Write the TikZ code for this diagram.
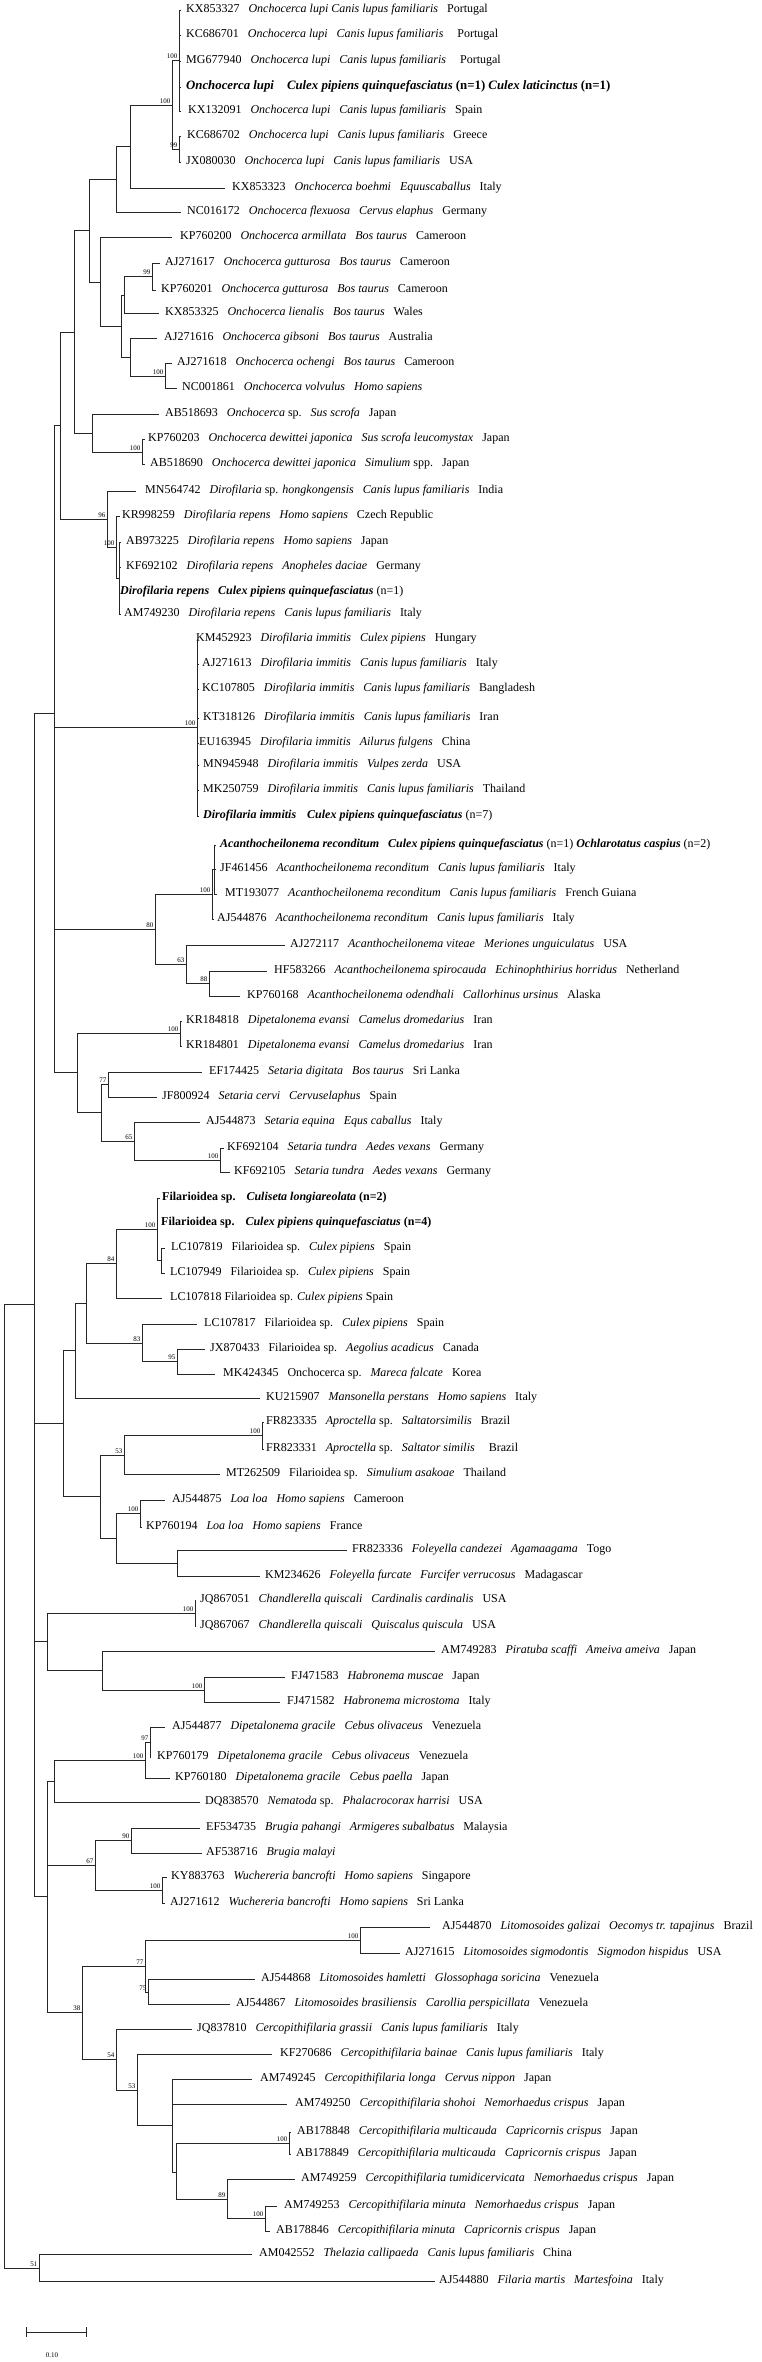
\documentclass[tikz,border=0pt]{standalone}
\usepackage{fontspec}
\setmainfont{Liberation Serif}
\newcommand\gp{\hspace{9pt}}
\newcommand\bi[1]{\textbf{\textit{#1}}}
\tikzset{
 br/.style={draw=black!85, line width=0.8pt},
 lab/.style={anchor=west, inner sep=0pt, font=\fontsize{12}{14}\selectfont, text height=8pt, text depth=2.5pt},
 boot/.style={anchor=south east, inner sep=0pt, font=\fontsize{7}{8}\selectfont, xshift=-1.5pt, yshift=1.2pt}
}
\newcommand\leaf[5]{\coordinate (t#1) at (#2,#4); \node[lab] (l#1) at (#3,#4) {#5};}
\begin{document}
\begin{tikzpicture}[x=1pt,y=-1pt]
\useasboundingbox (0,0) rectangle (762,2362);
% ---------- leaves ----------
\leaf{1}{181}{186}{10}{KX853327\gp\textit{Onchocerca lupi Canis lupus familiaris}\gp Portugal}
\leaf{2}{181}{186}{35}{KC686701\gp\textit{Onchocerca lupi}\gp\textit{Canis lupus familiaris}\gp\hspace{5pt}Portugal}
\leaf{3}{181}{186}{61}{MG677940\gp\textit{Onchocerca lupi}\gp\textit{Canis lupus familiaris}\gp\hspace{5pt}Portugal}
\leaf{4}{181}{186}{87}{\fontsize{12.8}{14}\selectfont\bi{Onchocerca lupi}\hspace{13pt}\bi{Culex pipiens quinquefasciatus} \textbf{(n=1)} \bi{Culex laticinctus} \textbf{(n=1)}}
\leaf{5}{181}{188}{111}{KX132091\gp\textit{Onchocerca lupi}\gp\textit{Canis lupus familiaris}\gp Spain}
\leaf{6}{181}{187}{136}{KC686702\gp\textit{Onchocerca lupi}\gp\textit{Canis lupus familiaris}\gp Greece}
\leaf{7}{181}{186}{162}{JX080030\gp\textit{Onchocerca lupi}\gp\textit{Canis lupus familiaris}\gp USA}
\leaf{8}{225}{232}{188}{KX853323\gp\textit{Onchocerca boehmi}\gp\textit{Equuscaballus}\gp Italy}
\leaf{9}{181}{187}{212}{NC016172\gp\textit{Onchocerca flexuosa}\gp\textit{Cervus elaphus}\gp Germany}
\leaf{10}{172}{180}{237}{KP760200\gp\textit{Onchocerca armillata}\gp\textit{Bos taurus}\gp Cameroon}
\leaf{11}{160}{165}{263}{AJ271617\gp\textit{Onchocerca gutturosa}\gp\textit{Bos taurus}\gp Cameroon}
\leaf{12}{156}{161}{290}{KP760201\gp\textit{Onchocerca gutturosa}\gp\textit{Bos taurus}\gp Cameroon}
\leaf{13}{159}{165}{313}{KX853325\gp\textit{Onchocerca lienalis}\gp\textit{Bos taurus}\gp Wales}
\leaf{14}{157}{164}{338}{AJ271616\gp\textit{Onchocerca gibsoni}\gp\textit{Bos taurus}\gp Australia}
\leaf{15}{172}{177}{363}{AJ271618\gp\textit{Onchocerca ochengi}\gp\textit{Bos taurus}\gp Cameroon}
\leaf{16}{177}{182}{388}{NC001861\gp\textit{Onchocerca volvulus}\gp\textit{Homo sapiens}}
\leaf{17}{159}{165}{414}{AB518693\gp\textit{Onchocerca} sp.\gp\textit{Sus scrofa}\gp Japan}
\leaf{18}{145}{148}{439}{KP760203\gp\textit{Onchocerca dewittei japonica}\gp\textit{Sus scrofa leucomystax}\gp Japan}
\leaf{19}{145}{150}{464}{AB518690\gp\textit{Onchocerca dewittei japonica}\gp\textit{Simulium} spp.\gp Japan}
\leaf{20}{136}{145}{491}{MN564742\gp\textit{Dirofilaria} sp. \textit{hongkongensis}\gp\textit{Canis lupus familiaris}\gp India}
\leaf{21}{120}{122}{516}{KR998259\gp\textit{Dirofilaria repens}\gp\textit{Homo sapiens}\gp Czech Republic}
\leaf{22}{121}{126}{542}{AB973225\gp\textit{Dirofilaria repens}\gp\textit{Homo sapiens}\gp Japan}
\leaf{23}{121}{126}{567}{KF692102\gp\textit{Dirofilaria repens}\gp\textit{Anopheles daciae}\gp Germany}
\leaf{24}{120}{120}{592}{\bi{Dirofilaria repens}\gp\bi{Culex pipiens quinquefasciatus} (n=1)}
\leaf{25}{121}{124}{614}{AM749230\gp\textit{Dirofilaria repens}\gp\textit{Canis lupus familiaris}\gp Italy}
\leaf{26}{197}{196}{639}{KM452923\gp\textit{Dirofilaria immitis}\gp\textit{Culex pipiens}\gp Hungary}
\leaf{27}{199}{202}{664}{AJ271613\gp\textit{Dirofilaria immitis}\gp\textit{Canis lupus familiaris}\gp Italy}
\leaf{28}{199}{202}{689}{KC107805\gp\textit{Dirofilaria immitis}\gp\textit{Canis lupus familiaris}\gp Bangladesh}
\leaf{29}{199}{203}{718}{KT318126\gp\textit{Dirofilaria immitis}\gp\textit{Canis lupus familiaris}\gp Iran}
\leaf{30}{199}{199}{743}{EU163945\gp\textit{Dirofilaria immitis}\gp\textit{Ailurus fulgens}\gp China}
\leaf{31}{199}{203}{765}{MN945948\gp\textit{Dirofilaria immitis}\gp\textit{Vulpes zerda}\gp USA}
\leaf{32}{199}{203}{790}{MK250759\gp\textit{Dirofilaria immitis}\gp\textit{Canis lupus familiaris}\gp Thailand}
\leaf{33}{199}{203}{816}{\bi{Dirofilaria immitis}\hspace{11pt}\bi{Culex pipiens quinquefasciatus} (n=7)}
\leaf{34}{216}{220}{845}{\bi{Acanthocheilonema reconditum}\gp\bi{Culex pipiens quinquefasciatus} (n=1) \bi{Ochlarotatus caspius} (n=2)}
\leaf{35}{216}{220}{869}{JF461456\gp\textit{Acanthocheilonema reconditum}\gp\textit{Canis lupus familiaris}\gp Italy}
\leaf{36}{217}{225}{894}{MT193077\gp\textit{Acanthocheilonema reconditum}\gp\textit{Canis lupus familiaris}\gp French Guiana}
\leaf{37}{214}{217}{919}{AJ544876\gp\textit{Acanthocheilonema reconditum}\gp\textit{Canis lupus familiaris}\gp Italy}
\leaf{38}{285}{290}{945}{AJ272117\gp\textit{Acanthocheilonema viteae}\gp\textit{Meriones unguiculatus}\gp USA}
\leaf{39}{267}{274}{971}{HF583266\gp\textit{Acanthocheilonema spirocauda}\gp\textit{Echinophthirius horridus}\gp Netherland}
\leaf{40}{240}{247}{996}{KP760168\gp\textit{Acanthocheilonema odendhali}\gp\textit{Callorhinus ursinus}\gp Alaska}
\leaf{41}{182}{186}{1021}{KR184818\gp\textit{Dipetalonema evansi}\gp\textit{Camelus dromedarius}\gp Iran}
\leaf{42}{182}{186}{1046}{KR184801\gp\textit{Dipetalonema evansi}\gp\textit{Camelus dromedarius}\gp Iran}
\leaf{43}{202}{209}{1072}{EF174425\gp\textit{Setaria digitata}\gp\textit{Bos taurus}\gp Sri Lanka}
\leaf{44}{157}{162}{1097}{JF800924\gp\textit{Setaria cervi}\gp\textit{Cervuselaphus}\gp Spain}
\leaf{45}{200}{206}{1122}{AJ544873\gp\textit{Setaria equina}\gp\textit{Equs caballus}\gp Italy}
\leaf{46}{224}{227}{1148}{KF692104\gp\textit{Setaria tundra}\gp\textit{Aedes vexans}\gp Germany}
\leaf{47}{230}{234}{1172}{KF692105\gp\textit{Setaria tundra}\gp\textit{Aedes vexans}\gp Germany}
\leaf{48}{160}{162}{1198}{\textbf{Filarioidea sp.}\hspace{11pt}\bi{Culiseta longiareolata} \textbf{(n=2)}}
\leaf{49}{158}{161}{1223}{\textbf{Filarioidea sp.}\hspace{11pt}\bi{Culex pipiens quinquefasciatus} \textbf{(n=4)}}
\leaf{50}{165}{171}{1248}{LC107819\gp Filarioidea sp.\gp\textit{Culex pipiens}\gp Spain}
\leaf{51}{165}{170}{1273}{LC107949\gp Filarioidea sp.\gp\textit{Culex pipiens}\gp Spain}
\leaf{52}{162}{170}{1298}{LC107818 Filarioidea sp. \textit{Culex pipiens} Spain}
\leaf{53}{197}{204}{1324}{LC107817\gp Filarioidea sp.\gp\textit{Culex pipiens}\gp Spain}
\leaf{54}{205}{210}{1349}{JX870433\gp Filarioidea sp.\gp\textit{Aegolius acadicus}\gp Canada}
\leaf{55}{215}{223}{1374}{MK424345\gp Onchocerca sp.\gp\textit{Mareca falcate}\gp Korea}
\leaf{56}{260}{266}{1398}{KU215907\gp\textit{Mansonella perstans}\gp\textit{Homo sapiens}\gp Italy}
\leaf{57}{264}{266}{1422}{FR823335\gp\textit{Aproctella} sp.\gp\textit{Saltatorsimilis}\gp Brazil}
\leaf{58}{264}{266}{1449}{FR823331\gp\textit{Aproctella} sp.\gp\textit{Saltator similis}\gp\hspace{5pt}Brazil}
\leaf{59}{220}{226}{1474}{MT262509\gp Filarioidea sp.\gp\textit{Simulium asakoae}\gp Thailand}
\leaf{60}{165}{172}{1500}{AJ544875\gp\textit{Loa loa}\gp\textit{Homo sapiens}\gp Cameroon}
\leaf{61}{142}{146}{1527}{KP760194\gp\textit{Loa loa}\gp\textit{Homo sapiens}\gp France}
\leaf{62}{347}{352}{1550}{FR823336\gp\textit{Foleyella candezei}\gp\textit{Agamaagama}\gp Togo}
\leaf{63}{260}{265}{1576}{KM234626\gp\textit{Foleyella furcate}\gp\textit{Furcifer verrucosus}\gp Madagascar}
\leaf{64}{196}{200}{1600}{JQ867051\gp\textit{Chandlerella quiscali}\gp\textit{Cardinalis cardinalis}\gp USA}
\leaf{65}{196}{200}{1626}{JQ867067\gp\textit{Chandlerella quiscali}\gp\textit{Quiscalus quiscula}\gp USA}
\leaf{66}{435}{441}{1651}{AM749283\gp\textit{Piratuba scaffi}\gp\textit{Ameiva ameiva}\gp Japan}
\leaf{67}{285}{291}{1677}{FJ471583\gp\textit{Habronema muscae}\gp Japan}
\leaf{68}{280}{287}{1702}{FJ471582\gp\textit{Habronema microstoma}\gp Italy}
\leaf{69}{165}{172}{1727}{AJ544877\gp\textit{Dipetalonema gracile}\gp\textit{Cebus olivaceus}\gp Venezuela}
\leaf{70}{151}{157}{1757}{KP760179\gp\textit{Dipetalonema gracile}\gp\textit{Cebus olivaceus}\gp Venezuela}
\leaf{71}{170}{175}{1778}{KP760180\gp\textit{Dipetalonema gracile}\gp\textit{Cebus paella}\gp Japan}
\leaf{72}{200}{205}{1802}{DQ838570\gp\textit{Nematoda} sp.\gp\textit{Phalacrocorax harrisi}\gp USA}
\leaf{73}{200}{206}{1828}{EF534735\gp\textit{Brugia pahangi}\gp\textit{Armigeres subalbatus}\gp Malaysia}
\leaf{74}{202}{206}{1853}{AF538716\gp\textit{Brugia malayi}}
\leaf{75}{167}{171}{1877}{KY883763\gp\textit{Wuchereria bancrofti}\gp\textit{Homo sapiens}\gp Singapore}
\leaf{76}{165}{170}{1903}{AJ271612\gp\textit{Wuchereria bancrofti}\gp\textit{Homo sapiens}\gp Sri Lanka}
\leaf{77}{430}{442}{1927}{AJ544870\gp\textit{Litomosoides galizai}\gp\textit{Oecomys tr. tapajinus}\gp Brazil}
\leaf{78}{400}{405}{1953}{AJ271615\gp\textit{Litomosoides sigmodontis}\gp\textit{Sigmodon hispidus}\gp USA}
\leaf{79}{255}{261}{1979}{AJ544868\gp\textit{Litomosoides hamletti}\gp\textit{Glossophaga soricina}\gp Venezuela}
\leaf{80}{230}{236}{2004}{AJ544867\gp\textit{Litomosoides brasiliensis}\gp\textit{Carollia perspicillata}\gp Venezuela}
\leaf{81}{192}{197}{2029}{JQ837810\gp\textit{Cercopithifilaria grassii}\gp\textit{Canis lupus familiaris}\gp Italy}
\leaf{82}{272}{280}{2054}{KF270686\gp\textit{Cercopithifilaria bainae}\gp\textit{Canis lupus familiaris}\gp Italy}
\leaf{83}{252}{260}{2079}{AM749245\gp\textit{Cercopithifilaria longa}\gp\textit{Cervus nippon}\gp Japan}
\leaf{84}{287}{295}{2104}{AM749250\gp\textit{Cercopithifilaria shohoi}\gp\textit{Nemorhaedus crispus}\gp Japan}
\leaf{85}{291}{297}{2132}{AB178848\gp\textit{Cercopithifilaria multicauda}\gp\textit{Capricornis crispus}\gp Japan}
\leaf{86}{291}{296}{2154}{AB178849\gp\textit{Cercopithifilaria multicauda}\gp\textit{Capricornis crispus}\gp Japan}
\leaf{87}{295}{301}{2179}{AM749259\gp\textit{Cercopithifilaria tumidicervicata}\gp\textit{Nemorhaedus crispus}\gp Japan}
\leaf{88}{277}{284}{2206}{AM749253\gp\textit{Cercopithifilaria minuta}\gp\textit{Nemorhaedus crispus}\gp Japan}
\leaf{89}{270}{276}{2231}{AB178846\gp\textit{Cercopithifilaria minuta}\gp\textit{Capricornis crispus}\gp Japan}
\leaf{90}{252}{259}{2254}{AM042552\gp\textit{Thelazia callipaeda}\gp\textit{Canis lupus familiaris}\gp China}
\leaf{91}{435}{439}{2281}{AJ544880\gp\textit{Filaria martis}\gp\textit{Martesfoina}\gp Italy}
% ---------- internal nodes ----------
\coordinate (nA) at (179,60);
\coordinate (nC) at (179,149);
\coordinate (nB) at (172,105);
\coordinate (nD) at (130,146);
\coordinate (nE) at (116,179);
\coordinate (nQ99) at (152,276);
\coordinate (nQ1) at (124,295);
\coordinate (nQ100) at (165,376);
\coordinate (nQ2) at (130,357);
\coordinate (nQ) at (121,326);
\coordinate (nP) at (100,282);
\coordinate (nF) at (89,230);
\coordinate (nH100) at (142,452);
\coordinate (nH) at (92,433);
\coordinate (nG) at (74,332);
\coordinate (nR4) at (119,578);
\coordinate (nR100) at (116,547);
\coordinate (nR96) at (107,519);
\coordinate (nI) at (60,425);
\coordinate (nImm) at (197,727);
\coordinate (nX) at (214,869);
\coordinate (nN) at (212,894);
\coordinate (nA88) at (209,983);
\coordinate (nA63) at (186,964);
\coordinate (nA80) at (155,929);
\coordinate (nDe) at (180,1033);
\coordinate (nS77) at (108,1084);
\coordinate (nS100) at (220,1160);
\coordinate (nS65) at (134,1141);
\coordinate (nS) at (101,1112);
\coordinate (nDS) at (77,1072);
\coordinate (nJ2) at (54,1000);
\coordinate (nJ) at (54,713);
\coordinate (nF2) at (161,1260);
\coordinate (nF100) at (157,1229);
\coordinate (nF84) at (116,1263);
\coordinate (nF95) at (177,1361);
\coordinate (nF83) at (142,1343);
\coordinate (nF86) at (86,1303);
\coordinate (nF75) at (75,1350);
\coordinate (nAp100) at (262,1435);
\coordinate (nAp53) at (124,1455);
\coordinate (nLoa) at (140,1513);
\coordinate (nFol) at (177,1563);
\coordinate (nF116) at (116,1538);
\coordinate (nF100b) at (100,1496);
\coordinate (nF63) at (63,1423);
\coordinate (nCh) at (195,1613);
\coordinate (nHab) at (204,1690);
\coordinate (nPir) at (102,1670);
\coordinate (nU) at (47,1641);
\coordinate (nDg97) at (150,1742);
\coordinate (nDg100) at (145,1760);
\coordinate (nDg) at (54,1781);
\coordinate (nB90) at (131,1840);
\coordinate (nW100) at (162,1890);
\coordinate (nB67) at (95,1865);
\coordinate (nLi100) at (360,1940);
\coordinate (nLi75) at (148,1992);
\coordinate (nLi77) at (145,1966);
\coordinate (nCe100) at (289,2143);
\coordinate (nCe100b) at (265,2218);
\coordinate (nCe89) at (227,2199);
\coordinate (nM2) at (176,2172);
\coordinate (nM) at (172,2125);
\coordinate (nCe53) at (137,2090);
\coordinate (nCe54) at (116,2059);
\coordinate (nLi38) at (82,2012);
\coordinate (nL) at (47,1896);
\coordinate (nK) at (34,1304);
\coordinate (nOut) at (39,2268);
\coordinate (nRoot) at (4,1786);
% ---------- branches ----------
\draw[br] (nA) |- (t1) (nA) |- (t2) (nA) |- (t3) (nA) |- (t4) (nA) |- (t5);
\draw[br] (nC) |- (t6) (nC) |- (t7);
\draw[br] (nB) |- (nA) (nB) |- (nC);
\draw[br] (nD) |- (nB) (nD) |- (t8);
\draw[br] (nE) |- (nD) (nE) |- (t9);
\draw[br] (nQ99) |- (t11) (nQ99) |- (t12);
\draw[br] (nQ1) |- (nQ99) (nQ1) |- (t13);
\draw[br] (nQ100) |- (t15) (nQ100) |- (t16);
\draw[br] (nQ2) |- (t14) (nQ2) |- (nQ100);
\draw[br] (nQ) |- (nQ1) (nQ) |- (nQ2);
\draw[br] (nP) |- (t10) (nP) |- (nQ);
\draw[br] (nF) |- (nE) (nF) |- (nP);
\draw[br] (nH100) |- (t18) (nH100) |- (t19);
\draw[br] (nH) |- (t17) (nH) |- (nH100);
\draw[br] (nG) |- (nF) (nG) |- (nH);
\draw[br] (nR4) |- (t22) (nR4) |- (t23) (nR4) |- (t24) (nR4) |- (t25);
\draw[br] (nR100) |- (t21) (nR100) |- (nR4);
\draw[br] (nR96) |- (t20) (nR96) |- (nR100);
\draw[br] (nI) |- (nG) (nI) |- (nR96);
\draw[br] (nImm) |- (t26) (nImm) |- (t27) (nImm) |- (t28) (nImm) |- (t29) (nImm) |- (t30) (nImm) |- (t31) (nImm) |- (t32) (nImm) |- (t33);
\draw[br] (nX) |- (t34) (nX) |- (t35) (nX) |- (t36);
\draw[br] (nN) |- (nX) (nN) |- (t37);
\draw[br] (nA88) |- (t39) (nA88) |- (t40);
\draw[br] (nA63) |- (t38) (nA63) |- (nA88);
\draw[br] (nA80) |- (nN) (nA80) |- (nA63);
\draw[br] (nDe) |- (t41) (nDe) |- (t42);
\draw[br] (nS77) |- (t43) (nS77) |- (t44);
\draw[br] (nS100) |- (t46) (nS100) |- (t47);
\draw[br] (nS65) |- (t45) (nS65) |- (nS100);
\draw[br] (nS) |- (nS77) (nS) |- (nS65);
\draw[br] (nDS) |- (nDe) (nDS) |- (nS);
\draw[br] (nJ2) |- (nA80) (nJ2) |- (nDS);
\draw[br] (nJ) |- (nI) (nJ) |- (nImm) (nJ) |- (nJ2);
\draw[br] (nF2) |- (t50) (nF2) |- (t51);
\draw[br] (nF100) |- (t48) (nF100) |- (t49) (nF100) |- (nF2);
\draw[br] (nF84) |- (nF100) (nF84) |- (t52);
\draw[br] (nF95) |- (t54) (nF95) |- (t55);
\draw[br] (nF83) |- (t53) (nF83) |- (nF95);
\draw[br] (nF86) |- (nF84) (nF86) |- (nF83);
\draw[br] (nF75) |- (nF86) (nF75) |- (t56);
\draw[br] (nAp100) |- (t57) (nAp100) |- (t58);
\draw[br] (nAp53) |- (nAp100) (nAp53) |- (t59);
\draw[br] (nLoa) |- (t60) (nLoa) |- (t61);
\draw[br] (nFol) |- (t62) (nFol) |- (t63);
\draw[br] (nF116) |- (nLoa) (nF116) |- (nFol);
\draw[br] (nF100b) |- (nAp53) (nF100b) |- (nF116);
\draw[br] (nF63) |- (nF75) (nF63) |- (nF100b);
\draw[br] (nCh) |- (t64) (nCh) |- (t65);
\draw[br] (nHab) |- (t67) (nHab) |- (t68);
\draw[br] (nPir) |- (t66) (nPir) |- (nHab);
\draw[br] (nU) |- (nCh) (nU) |- (nPir);
\draw[br] (nDg97) |- (t69) (nDg97) |- (t70);
\draw[br] (nDg100) |- (nDg97) (nDg100) |- (t71);
\draw[br] (nDg) |- (nDg100) (nDg) |- (t72);
\draw[br] (nB90) |- (t73) (nB90) |- (t74);
\draw[br] (nW100) |- (t75) (nW100) |- (t76);
\draw[br] (nB67) |- (nB90) (nB67) |- (nW100);
\draw[br] (nLi100) |- (t77) (nLi100) |- (t78);
\draw[br] (nLi75) |- (t79) (nLi75) |- (t80);
\draw[br] (nLi77) |- (nLi100) (nLi77) |- (nLi75);
\draw[br] (nCe100) |- (t85) (nCe100) |- (t86);
\draw[br] (nCe100b) |- (t88) (nCe100b) |- (t89);
\draw[br] (nCe89) |- (t87) (nCe89) |- (nCe100b);
\draw[br] (nM2) |- (nCe100) (nM2) |- (nCe89);
\draw[br] (nM) |- (t83) (nM) |- (t84) (nM) |- (nM2);
\draw[br] (nCe53) |- (t82) (nCe53) |- (nM);
\draw[br] (nCe54) |- (t81) (nCe54) |- (nCe53);
\draw[br] (nLi38) |- (nLi77) (nLi38) |- (nCe54);
\draw[br] (nL) |- (nDg) (nL) |- (nB67) (nL) |- (nLi38);
\draw[br] (nK) |- (nJ) (nK) |- (nF63) (nK) |- (nU) (nK) |- (nL);
\draw[br] (nOut) |- (t90) (nOut) |- (t91);
\draw[br] (nRoot) |- (nK) (nRoot) |- (nOut);
% ---------- bootstrap values ----------
\node[boot] (b1) at (nA) {100};
\node[boot] (b2) at (nB) {100};
\node[boot] (b3) at (nC) {99};
\node[boot] (b4) at (nQ99) {99};
\node[boot] (b5) at (nQ100) {100};
\node[boot] (b6) at (nH100) {100};
\node[boot] (b7) at (nR96) {96};
\node[boot] (b8) at (nR100) {100};
\node[boot] (b9) at (nImm) {100};
\node[boot] (b10) at (nN) {100};
\node[boot] (b11) at (nA80) {80};
\node[boot] (b12) at (nA63) {63};
\node[boot] (b13) at (nA88) {88};
\node[boot] (b14) at (nDe) {100};
\node[boot] (b15) at (nS77) {77};
\node[boot] (b16) at (nS65) {65};
\node[boot] (b17) at (nS100) {100};
\node[boot] (b18) at (nF100) {100};
\node[boot] (b19) at (nF84) {84};
\node[boot] (b20) at (nF83) {83};
\node[boot] (b21) at (nF95) {95};
\node[boot] (b22) at (nAp100) {100};
\node[boot] (b23) at (nAp53) {53};
\node[boot] (b24) at (nLoa) {100};
\node[boot] (b25) at (nCh) {100};
\node[boot] (b26) at (nHab) {100};
\node[boot] (b27) at (nDg97) {97};
\node[boot] (b28) at (nDg100) {100};
\node[boot] (b29) at (nB90) {90};
\node[boot] (b30) at (nB67) {67};
\node[boot] (b31) at (nW100) {100};
\node[boot] (b32) at (nLi100) {100};
\node[boot] (b33) at (nLi77) {77};
\node[boot] (b34) at (nLi75) {75};
\node[boot] (b35) at (nLi38) {38};
\node[boot] (b36) at (nCe54) {54};
\node[boot] (b37) at (nCe53) {53};
\node[boot] (b38) at (nCe100) {100};
\node[boot] (b39) at (nCe89) {89};
\node[boot] (b40) at (nCe100b) {100};
\node[boot] (b41) at (nOut) {51};
% ---------- scale bar ----------
\coordinate (s1) at (26,2332);
\coordinate (s2) at (86,2332);
\draw[br] (s1) -- (s2);
\draw[br] (s1) ++(0,-5) -- ++(0,10);
\draw[br] (s2) ++(0,-5) -- ++(0,10);
\node[font=\fontsize{7}{8}\selectfont, inner sep=0pt] (sl) at (52,2355) {0.10};
\end{tikzpicture}
\end{document}
